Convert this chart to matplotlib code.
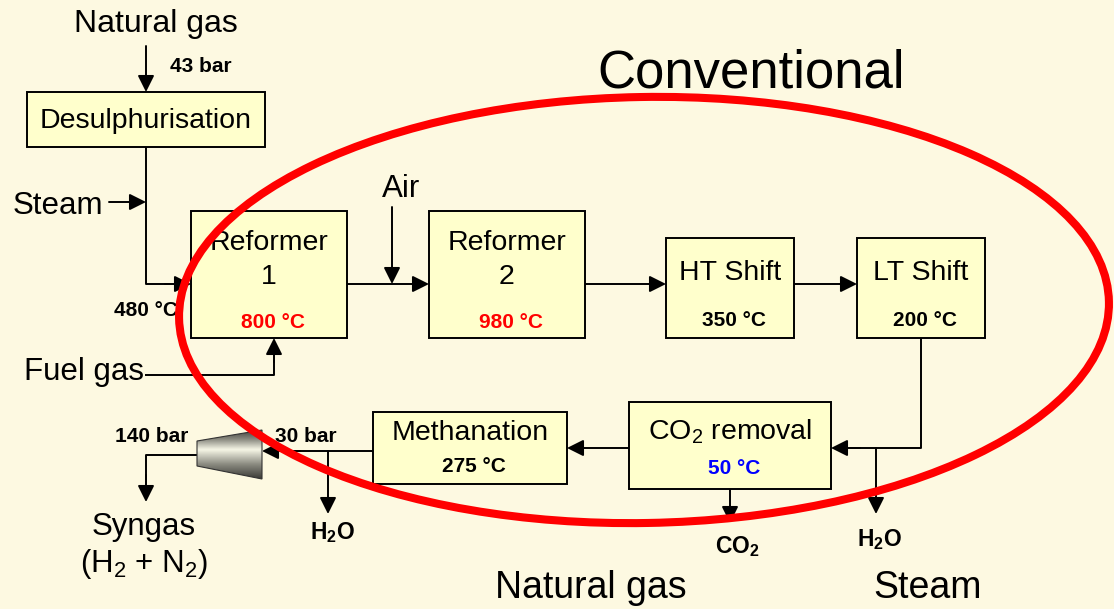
import matplotlib
matplotlib.use("Agg")
import matplotlib.pyplot as plt
import numpy as np
from matplotlib.patches import Rectangle, Polygon, Ellipse
from matplotlib.colors import LinearSegmentedColormap

plt.rcParams['font.family'] = ['Liberation Sans', 'DejaVu Sans']
plt.rcParams['mathtext.fontset'] = 'custom'
plt.rcParams['mathtext.rm'] = 'Liberation Sans'
plt.rcParams['mathtext.it'] = 'Liberation Sans:italic'
plt.rcParams['mathtext.bf'] = 'Liberation Sans:bold'

# ---- data ----
units = ["Desulphurisation", "Reformer\n1", "Reformer\n2", "HT Shift", "LT Shift",
         "CO$_2$ removal", "Methanation"]
unit_temps = [None, 800, 980, 350, 200, 50, 275]          # deg C
temp_colors = [None, '#FF0000', '#FF0000', 'black', 'black', '#0000FF', 'black']
feed_pressure = 43      # bar
feed_temp = 480         # deg C
synloop_in = 30         # bar
synloop_out = 140       # bar
title = "Conventional"

BG = '#FDF9E1'
BOXC = '#FFFFCC'

fig = plt.figure(figsize=(11.14, 6.09), dpi=100, facecolor=BG)
ax = fig.add_axes([0, 0, 1, 1])
ax.set_facecolor(BG)
ax.set_xlim(0, 1114)
ax.set_ylim(609, 0)
ax.axis('off')

LW = 1.4
AMS = 25

def line(xs, ys):
    ax.plot(xs, ys, color='black', lw=LW, solid_capstyle='butt', zorder=2)

def arrow(x0, y0, x1, y1):
    ax.annotate('', xy=(x1, y1), xytext=(x0, y0),
                arrowprops=dict(arrowstyle='-|>', color='black', lw=LW,
                                mutation_scale=AMS, shrinkA=0, shrinkB=0),
                zorder=3)

def tempstr(t):
    return f"{t} \u00b0C"

# box layout: (left, top, right, bottom, label_y, temp_y)
layout = [
    (27, 92, 265, 147, 121, None),
    (191, 211, 347, 338, 260, 322),
    (429, 211, 585, 338, 260, 322),
    (666, 238, 794, 338, 273, 321),
    (857, 238, 985, 338, 273, 321),
    (629, 402, 831, 489, 432, 468),
    (373, 412, 567, 484, 433, 466),
]
BOX_FS = 20.5
TEMP_FS = 15
CHEM_FS = 16.5
BIG_FS = 22.5
for name, t, tc, (l, tp, r, b, ly, ty) in zip(units, unit_temps, temp_colors, layout):
    ax.add_patch(Rectangle((l, tp), r - l, b - tp, facecolor=BOXC, edgecolor='black',
                           lw=LW, zorder=4))
    cx = (l + r) / 2
    ax.text(cx, ly, name, ha='center', va='center', fontsize=BOX_FS,
            linespacing=1.35, zorder=5)
    if t is not None:
        ax.text(cx + 4, ty, tempstr(t), ha='center', va='center', fontsize=TEMP_FS,
                fontweight='bold', color=tc, zorder=5)

# ---- streams ----
# natural gas feed
arrow(146, 46, 146, 92)
ax.text(156, 24, "Natural gas", ha='center', va='center', fontsize=BIG_FS + 0.5)
ax.text(201, 66, f"{feed_pressure} bar", ha='center', va='center', fontsize=TEMP_FS,
        fontweight='bold')
# desulph -> reformer 1
line([146, 146, 170], [147, 284, 284])
arrow(165, 284, 191, 284)
# steam
arrow(109, 202, 146, 202)
ax.text(58, 206, "Steam", ha='center', va='center', fontsize=BIG_FS)
ax.text(146, 311, tempstr(feed_temp), ha='center', va='center', fontsize=TEMP_FS,
        fontweight='bold')
# fuel gas
line([145, 274, 274], [375, 375, 360])
arrow(274, 362, 274, 338)
ax.text(84, 372, "Fuel gas", ha='center', va='center', fontsize=BIG_FS)
# reformer1 -> reformer2 with air
arrow(347, 284, 429, 284)
arrow(392, 207, 392, 284)
ax.text(401, 189, "Air", ha='center', va='center', fontsize=BIG_FS)
# reformer2 -> HT -> LT
arrow(585, 284, 666, 284)
arrow(794, 284, 857, 284)
# LT -> CO2 removal
line([921, 921, 850], [338, 448, 448])
arrow(860, 448, 831, 448)
arrow(876, 448, 876, 514)
ax.text(880, 540, "H$_\\mathbf{2}$O", ha='center', va='center', fontsize=CHEM_FS,
        fontweight='bold')
# CO2 out
arrow(730, 489, 730, 523)
ax.text(737, 547, "CO$_\\mathbf{2}$", ha='center', va='center', fontsize=CHEM_FS,
        fontweight='bold')
# CO2 removal -> methanation
arrow(629, 448, 567, 448)
# methanation -> compressor
line([373, 290], [451, 451])
arrow(300, 451, 262, 451)
arrow(328, 451, 328, 514)
ax.text(333, 533, "H$_\\mathbf{2}$O", ha='center', va='center', fontsize=CHEM_FS,
        fontweight='bold')
ax.text(306, 437, f"{synloop_in} bar", ha='center', va='center', fontsize=TEMP_FS,
        fontweight='bold')
ax.text(152, 437, f"{synloop_out} bar", ha='center', va='center', fontsize=TEMP_FS,
        fontweight='bold')
# compressor (trapezoid with gradient)
comp = Polygon([(197, 441), (262, 430), (262, 479), (197, 466)], closed=True,
               facecolor='none', edgecolor='#333333', lw=0.8, zorder=6)
ax.add_patch(comp)
grad = np.concatenate([np.linspace(0.15, 1.0, 40), np.linspace(1.0, 0.1, 60)])
cmap = LinearSegmentedColormap.from_list('g', ['#3a3a36', '#8a8a80', '#f4f4e4'])
im = ax.imshow(grad[:, None], cmap=cmap, extent=(197, 262, 479, 430), origin='upper',
               aspect='auto', zorder=5, interpolation='bilinear')
im.set_clip_path(comp)
ax.set_xlim(0, 1114)
ax.set_ylim(609, 0)
# compressor -> syngas
line([197, 146, 146], [455, 455, 480])
arrow(146, 475, 146, 502)
ax.text(144, 527, "Syngas", ha='center', va='center', fontsize=BIG_FS)
ax.text(144, 564, "(H$_2$ + N$_2$)", ha='center', va='center', fontsize=BIG_FS)

# bottom labels
ax.text(591, 588, "Natural gas", ha='center', va='center', fontsize=27)
ax.text(928, 588, "Steam", ha='center', va='center', fontsize=27)

# title and ellipse
ax.text(751, 74, title, ha='center', va='center', fontsize=38)
ax.add_patch(Ellipse((644, 310), 930, 426, angle=-1, facecolor='none',
                     edgecolor='#FF0000', lw=5.8, zorder=10))

fig.savefig('out.png', dpi=100, facecolor=BG)
